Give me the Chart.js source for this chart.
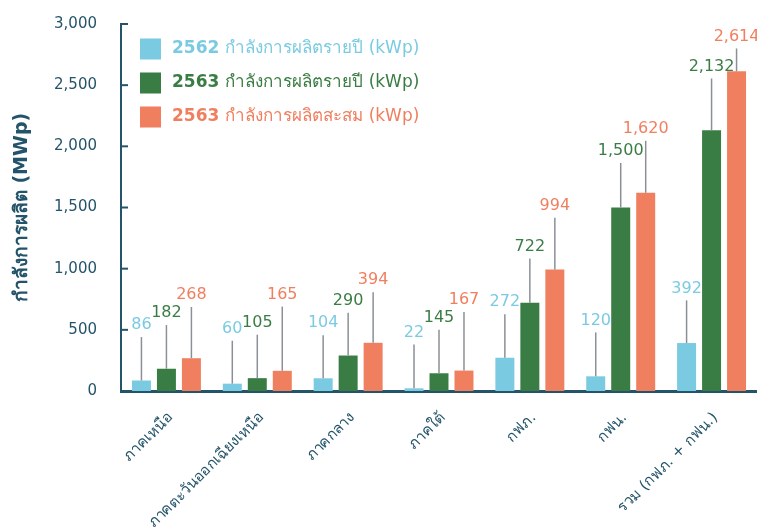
<!DOCTYPE html>
<html>
<head>
<meta charset="utf-8">
<script src="https://cdn.jsdelivr.net/npm/chart.js@4.4.1/dist/chart.umd.min.js"></script>
<style>
  body { margin: 0; background: #fff; }
</style>
</head>
<body>
<canvas id="chart" width="757" height="531"></canvas>
<script>
// ข้อมูล
const categories = ['ภาคเหนือ', 'ภาคตะวันออกเฉียงเหนือ', 'ภาคกลาง', 'ภาคใต้', 'กฟภ.', 'กฟน.', 'รวม (กฟภ. + กฟน.)'];
const year2562 = [86, 60, 104, 22, 272, 120, 392];
const year2563 = [182, 105, 290, 145, 722, 1500, 2132];
const cumulative2563 = [268, 165, 394, 167, 994, 1620, 2614];
// ปลายเส้นแนวตั้งเหนือแท่ง (อ่านจากภาพ)
const whisker2562 = [441, 411, 455, 381, 627, 479, 741];
const whisker2563 = [539, 460, 640, 501, 1083, 1864, 2555];
const whiskerCum = [687, 690, 807, 646, 1416, 2045, 2800];
const yTicks = [0, 500, 1000, 1500, 2000, 2500, 3000];

const legendBold = ['2562', '2563', '2563'];
const legendText = ['กำลังการผลิตรายปี (kWp)', 'กำลังการผลิตรายปี (kWp)', 'กำลังการผลิตสะสม (kWp)'];

const colors = ['#7ACBE2', '#3A7D44', '#F07F5F'];
const axisColor = '#24546A';
const FONT = "'DejaVu Sans', 'Noto Sans', sans-serif";

// เส้นแนวตั้ง + ตัวเลขเหนือแท่ง
const whiskerPlugin = {
    id: 'whiskers',
    afterDatasetsDraw(chart) {
        const ctx = chart.ctx;
        const yScale = chart.scales.y;
        chart.data.datasets.forEach((ds, i) => {
            const meta = chart.getDatasetMeta(i);
            meta.data.forEach((bar, j) => {
                const top = yScale.getPixelForValue(ds.whisker[j]);
                ctx.save();
                ctx.strokeStyle = '#8B9097';
                ctx.lineWidth = 1.5;
                ctx.beginPath();
                ctx.moveTo(bar.x, bar.y);
                ctx.lineTo(bar.x, top);
                ctx.stroke();
                ctx.fillStyle = colors[i];
                ctx.font = `16px ${FONT}`;
                ctx.textAlign = 'center';
                ctx.textBaseline = 'middle';
                ctx.fillText(ds.data[j].toLocaleString('en-US'), bar.x, top - 12);
                ctx.restore();
            });
        });
    }
};

// ขีดแกน y ชี้เข้าด้านใน + คำอธิบาย
const extrasPlugin = {
    id: 'extras',
    afterDraw(chart) {
        const ctx = chart.ctx;
        const yScale = chart.scales.y;
        const area = chart.chartArea;
        ctx.save();
        ctx.strokeStyle = axisColor;
        ctx.lineWidth = 2;
        yTicks.forEach(v => {
            const y = yScale.getPixelForValue(v);
            ctx.beginPath();
            ctx.moveTo(area.left, y);
            ctx.lineTo(area.left + 7, y);
            ctx.stroke();
        });

        legendText.forEach((txt, i) => {
            const x = area.left + 19;
            const y = area.top + 25 + i * 34;
            ctx.fillStyle = colors[i];
            ctx.fillRect(x, y - 10.5, 21, 21);
            ctx.textBaseline = 'middle';
            ctx.textAlign = 'left';
            ctx.font = `bold 17px ${FONT}`;
            ctx.fillText(legendBold[i], x + 32, y);
            const w = ctx.measureText(legendBold[i] + ' ').width;
            ctx.font = `17px ${FONT}`;
            ctx.fillText(txt, x + 32 + w, y);
        });
        ctx.restore();
    }
};

new Chart(document.getElementById('chart'), {
    type: 'bar',
    data: {
        labels: categories,
        datasets: [
            { label: '2562', data: year2562, whisker: whisker2562, backgroundColor: colors[0] },
            { label: '2563', data: year2563, whisker: whisker2563, backgroundColor: colors[1] },
            { label: '2563 สะสม', data: cumulative2563, whisker: whiskerCum, backgroundColor: colors[2] }
        ]
    },
    options: {
        responsive: false,
        animation: false,
        devicePixelRatio: 1,
        categoryPercentage: 0.825,
        barPercentage: 0.76,
        layout: { padding: { top: 24, right: 0, left: 0, bottom: 0 } },
        plugins: {
            legend: { display: false },
            tooltip: { enabled: false }
        },
        scales: {
            x: {
                grid: { display: false, drawTicks: false },
                border: { display: true, color: axisColor, width: 3 },
                ticks: {
                    color: axisColor,
                    font: { family: FONT, size: 15 },
                    maxRotation: 45,
                    minRotation: 45,
                    padding: 18,
                    labelOffset: 4,
                    autoSkip: false
                },
                afterFit: scale => {
                    scale.height = 140;
                    scale.paddingLeft = 0;
                    scale.paddingRight = 0;
                }
            },
            y: {
                min: 0,
                max: 3000,
                grid: { display: false, drawTicks: false },
                border: { display: true, color: axisColor, width: 2 },
                afterBuildTicks: scale => { scale.ticks = yTicks.map(v => ({ value: v })); },
                ticks: {
                    color: axisColor,
                    font: { family: FONT, size: 15 },
                    padding: 24,
                    callback: v => v.toLocaleString('en-US')
                },
                title: {
                    display: true,
                    text: 'กำลังการผลิต (MWp)',
                    color: axisColor,
                    font: { family: FONT, size: 19, weight: 'bold' },
                    padding: { top: 11, bottom: 0 }
                },
                afterFit: scale => {
                    scale.width = 121;
                    scale.paddingTop = 0;
                    scale.paddingBottom = 0;
                }
            }
        }
    },
    plugins: [whiskerPlugin, extrasPlugin]
});
</script>
</body>
</html>
